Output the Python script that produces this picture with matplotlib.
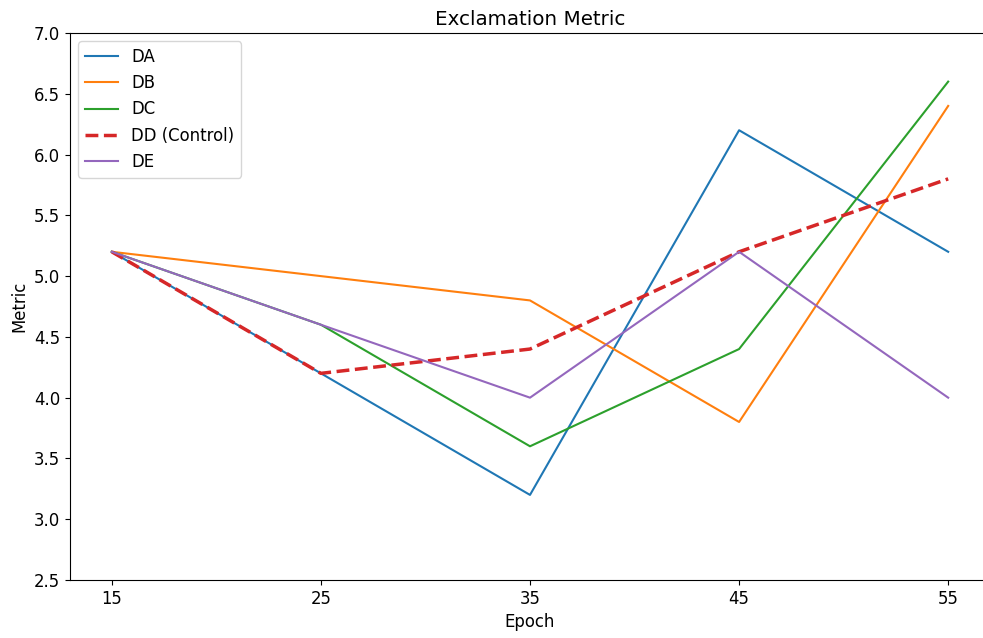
import matplotlib
matplotlib.use("Agg")
import matplotlib.pyplot as plt

epochs = [15, 25, 35, 45, 55]
da = [5.2, 4.2, 3.2, 6.2, 5.2]
db = [5.2, 5.0, 4.8, 3.8, 6.4]
dc = [5.2, 4.6, 3.6, 4.4, 6.6]
dd = [5.2, 4.2, 4.4, 5.2, 5.8]
de = [5.2, 4.6, 4.0, 5.2, 4.0]

plt.rcParams["font.size"] = 11.9

fig = plt.figure(figsize=(9.83, 6.38), dpi=100)
ax = fig.add_axes([70 / 983, 1 - 580 / 638, 920 / 983, 547 / 638])

ax.plot(epochs, da, color="#1f77b4", label="DA")
ax.plot(epochs, db, color="#ff7f0e", label="DB")
ax.plot(epochs, dc, color="#2ca02c", label="DC")
ax.plot(epochs, dd, color="#d62728", linestyle="--", linewidth=2.5, label="DD (Control)")
ax.plot(epochs, de, color="#9467bd", label="DE")

ax.set_xticks(epochs)
ax.set_ylim(2.5, 7.0)
ax.set_xlabel("Epoch")
ax.set_ylabel("Metric")
ax.set_title("Exclamation Metric")
ax.spines["right"].set_visible(False)
ax.legend(loc="upper left")

fig.savefig("out.png", dpi=100)
